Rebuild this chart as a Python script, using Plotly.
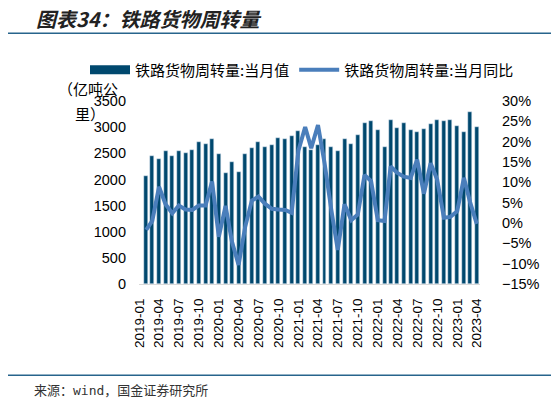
import pandas as pd
import plotly.graph_objects as go

# 月份：2019-02 ~ 2023-04
months = pd.date_range("2019-02-01", "2023-04-01", freq="MS")

# 铁路货物周转量:当月值（亿吨公里）
turnover = [2058, 2451, 2394, 2546, 2451, 2546, 2508, 2565, 2711, 2679, 2768, 2483,
            2120, 2337, 2138, 2483, 2595, 2708, 2622, 2650, 2793, 2768, 2825, 2935,
            2625, 2560, 2655, 2768, 2625, 2540, 2768, 2679, 2856, 3078, 3110, 2942,
            2627, 3135, 2990, 3078, 2942, 2907, 2964, 3053, 3135, 3110, 3135, 3021,
            2907, 3281, 2996]

# 铁路货物周转量:当月同比（%）
yoy = [-1.7, 0.5, 8.9, 4.6, 2.4, 4.3, 3.3, 3.2, 4.3, 4.3, 10.2, -3.4,
       4.2, -4.5, -10.3, -1.0, 5.5, 6.5, 4.7, 3.5, 3.3, 3.2, 2.5, 17.8,
       23.6, 18.4, 24.1, 14.8, 3.3, -6.6, 4.6, 0.7, 2.1, 11.8, 10.3, 0.7,
       0.5, 13.9, 12.3, 11.4, 11.1, 15.6, 7.2, 14.7, 10.7, 1.3, 1.5, 2.9,
       11.1, 5.2, -0.2]

left_ticks = [0, 500, 1000, 1500, 2000, 2500, 3000, 3500]

BAR_COLOR = "#00486e"
LINE_COLOR = "#4a7ebb"
RULE_COLOR = "#27648c"
CJK = "Noto Sans CJK SC"
LATIN = "Liberation Sans"

# the page body has an 8px margin, so the figure is shrunk by that much
OFF = 8
W, H = 559 - OFF, 404 - OFF
L, R, T, B = 139 - OFF, 79, 101 - OFF, 119.5
PW, PH = W - L - R, H - T - B


def px_x(x):
    # x in screenshot pixels -> paper fraction
    return (x - OFF - L) / PW


def px_y(y):
    return (H - B - (y - OFF)) / PH


month_ms = 30.44 * 24 * 3600 * 1000

fig = go.Figure()
fig.add_trace(go.Bar(
    x=months, y=turnover, name="铁路货物周转量:当月值",
    marker_color=BAR_COLOR, width=0.6 * month_ms, showlegend=False))
# legend proxy so the bar key looks like a wide block
fig.add_trace(go.Scatter(
    x=[None], y=[None], mode="lines", name="铁路货物周转量:当月值",
    line=dict(color=BAR_COLOR, width=9)))
fig.add_trace(go.Scatter(
    x=months, y=yoy, name="铁路货物周转量:当月同比", yaxis="y2",
    mode="lines", line=dict(color=LINE_COLOR, width=4)))

fig.update_layout(
    width=W, height=H, autosize=False,
    margin=dict(l=L, r=R, t=T, b=B),
    paper_bgcolor="white", plot_bgcolor="white",
    font=dict(family=f"{LATIN}, {CJK}", size=14, color="#000000"),
    bargap=0,
    xaxis=dict(
        type="date", range=["2018-12-30", "2023-04-16"],
        tick0="2019-01-01", dtick="M3", tickformat="%Y-%m",
        tickangle=-90, tickfont=dict(size=13.5, family=LATIN),
        showgrid=False, showline=True, linecolor="#d9d9d9", linewidth=1,
        ticks="", ticklabelstandoff=8, zeroline=False),
    yaxis=dict(
        range=[0, 3500], tickvals=left_ticks, showgrid=False,
        zeroline=False, showline=False, ticks="",
        tickfont=dict(size=14.5, family=LATIN), ticklabelstandoff=12),
    yaxis2=dict(
        range=[-15, 30], dtick=5, ticksuffix="%", overlaying="y",
        side="right", showgrid=False, zeroline=False, showline=False,
        ticks="", tickfont=dict(size=14.5, family=LATIN),
        ticklabelstandoff=21),
    legend=dict(
        orientation="h", x=px_x(85), y=px_y(70), xanchor="left",
        yanchor="middle", bgcolor="rgba(0,0,0,0)",
        font=dict(size=15, family=CJK), itemwidth=40),
    shapes=[
        dict(type="line", xref="paper", yref="paper",
             x0=px_x(5), x1=px_x(553), y0=px_y(33), y1=px_y(33),
             line=dict(color=RULE_COLOR, width=1.5)),
        dict(type="line", xref="paper", yref="paper",
             x0=px_x(5), x1=px_x(553), y0=px_y(376), y1=px_y(376),
             line=dict(color=RULE_COLOR, width=1.5)),
    ],
    annotations=[
        dict(text="图表34：铁路货物周转量", xref="paper", yref="paper",
             x=px_x(34), y=px_y(18), xanchor="left", yanchor="middle",
             showarrow=False,
             font=dict(size=20, family=CJK, color="#222222",
                       weight="bold", style="italic")),
        dict(text="（亿吨公", xref="paper", yref="paper",
             x=px_x(56), y=px_y(88), xanchor="left", yanchor="middle",
             showarrow=False, font=dict(size=15, family=CJK)),
        dict(text="里）", xref="paper", yref="paper",
             x=px_x(73), y=px_y(114), xanchor="left", yanchor="middle",
             showarrow=False, font=dict(size=15, family=CJK)),
        dict(text="来源：wind，国金证券研究所", xref="paper", yref="paper",
             x=px_x(32), y=px_y(391), xanchor="left", yanchor="middle",
             showarrow=False,
             font=dict(size=13, family="DejaVu Sans Mono, " + CJK,
                       color="#333333")),
    ],
)

fig.write_html("out.html")
